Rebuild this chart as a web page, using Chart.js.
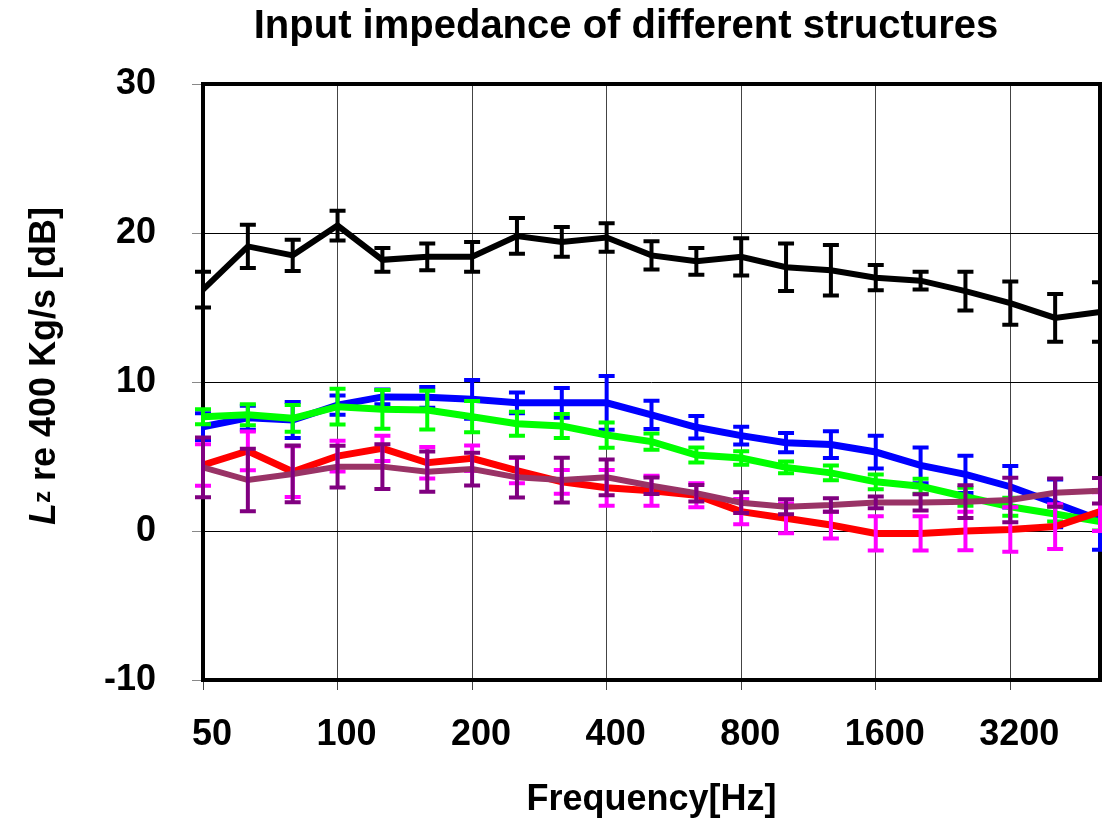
<!DOCTYPE html>
<html>
<head>
<meta charset="utf-8">
<title>Input impedance of different structures</title>
<script src="https://cdn.jsdelivr.net/npm/chart.js@4.4.1/dist/chart.umd.min.js"></script>
<style>
  html, body { margin: 0; padding: 0; background: #fff; }
  #wrap { width: 1102px; height: 823px; position: relative; }
</style>
</head>
<body>
<div id="wrap"><canvas id="chart"></canvas></div>
<script>
// 1/3 octave bands (Hz)
var bands = ["50", "63", "80", "100", "125", "160", "200", "250", "315", "400", "500",
             "630", "800", "1000", "1250", "1600", "2000", "2500", "3150", "4000", "5000"];
// labels shown on every 3rd band
var tickLabels = ["50", "100", "200", "400", "800", "1600", "3200"];

var blackVals = [16.2, 19.1, 18.5, 20.5, 18.2, 18.4, 18.4, 19.8, 19.4, 19.7, 18.5,
                 18.1, 18.4, 17.7, 17.5, 17.0, 16.8, 16.1, 15.3, 14.3, 14.7];
var blackErr  = [1.2, 1.45, 1.05, 1.0, 0.8, 0.9, 1.0, 1.2, 1.0, 0.95, 0.95,
                 0.9, 1.25, 1.6, 1.7, 0.85, 0.6, 1.3, 1.45, 1.6, 2.0];

var blueVals = [7.0, 7.6, 7.45, 8.45, 9.0, 8.97, 8.84, 8.6, 8.6, 8.6, 7.8,
                6.96, 6.4, 5.93, 5.8, 5.3, 4.4, 3.8, 2.97, 1.86, 0.74];
var blueErr  = [0.9, 0.8, 1.2, 0.65, 0.5, 0.7, 1.3, 0.7, 1.0, 1.8, 0.95,
                0.75, 0.6, 0.65, 0.9, 1.1, 1.2, 1.25, 1.4, 1.6, 2.0];

var greenVals = [7.67, 7.8, 7.56, 8.34, 8.17, 8.12, 7.67, 7.2, 7.05, 6.44, 6.0,
                 5.1, 4.9, 4.27, 3.9, 3.3, 3.0, 2.3, 1.63, 1.14, 0.63];
var greenErr  = [0.5, 0.7, 0.9, 1.2, 1.3, 1.3, 1.05, 0.8, 0.8, 0.85, 0.55,
                 0.5, 0.45, 0.4, 0.5, 0.5, 0.5, 0.6, 0.6, 0.5, 0.6];

var redVals = [4.43, 5.37, 3.98, 5.03, 5.55, 4.58, 4.88, 4.05, 3.3, 2.9, 2.7,
               2.4, 1.3, 0.85, 0.4, -0.16, -0.16, 0.0, 0.1, 0.3, 1.3];
var redErr  = [1.4, 1.3, 1.7, 1.03, 0.85, 1.05, 0.85, 0.85, 0.8, 1.2, 1.0,
               0.8, 0.85, 1.0, 0.9, 1.15, 1.15, 1.3, 1.5, 1.5, 1.3];

var mauveVals = [4.27, 3.42, 3.83, 4.32, 4.32, 3.98, 4.16, 3.6, 3.42, 3.6, 3.04,
                 2.53, 1.9, 1.63, 1.74, 1.92, 1.92, 1.97, 2.08, 2.57, 2.7];
var mauveErr  = [2.0, 2.1, 1.9, 1.4, 1.5, 1.35, 1.1, 1.35, 1.5, 1.2, 0.55,
                 0.55, 0.7, 0.5, 0.45, 0.4, 0.55, 1.1, 1.5, 0.95, 0.85];

var FONT = "'Liberation Sans', Arial, Helvetica, sans-serif";

function makeSet(vals, errs, lineColor, errColor, width) {
  return {
    data: vals,
    errors: errs,
    errorColor: errColor,
    borderColor: lineColor,
    backgroundColor: lineColor,
    borderWidth: width,
    pointRadius: 0,
    pointHoverRadius: 0,
    tension: 0,
    fill: false
  };
}

// 오차막대 : 각 데이터셋 선 바로 뒤에 그림
var errorBarPlugin = {
  id: "errorBars",
  afterDatasetDraw: function (chart, args) {
    var ds = chart.data.datasets[args.index];
    if (!ds.errors) return;
    var ctx = chart.ctx;
    var yScale = chart.scales.y;
    ctx.save();
    ctx.strokeStyle = ds.errorColor;
    ctx.lineWidth = 4;
    args.meta.data.forEach(function (pt, i) {
      var top = yScale.getPixelForValue(ds.data[i] + ds.errors[i]);
      var bot = yScale.getPixelForValue(ds.data[i] - ds.errors[i]);
      ctx.beginPath();
      ctx.moveTo(pt.x, top);
      ctx.lineTo(pt.x, bot);
      ctx.moveTo(pt.x - 8, top);
      ctx.lineTo(pt.x + 8, top);
      ctx.moveTo(pt.x - 8, bot);
      ctx.lineTo(pt.x + 8, bot);
      ctx.stroke();
    });
    ctx.restore();
  }
};

// 외곽 테두리 + 제목 + y축 제목
var framePlugin = {
  id: "frame",
  beforeDatasetsDraw: function (chart) {
    var a = chart.chartArea;
    var ctx = chart.ctx;
    ctx.save();
    ctx.strokeStyle = "#000";
    ctx.lineWidth = 4;
    ctx.strokeRect(a.left, a.top, a.right - a.left, a.bottom - a.top);
    ctx.restore();
  },
  afterDraw: function (chart) {
    var ctx = chart.ctx;
    ctx.save();
    ctx.fillStyle = "#000";
    ctx.textAlign = "center";
    ctx.textBaseline = "alphabetic";
    ctx.font = "bold 40px " + FONT;
    ctx.fillText("Input impedance of different structures", 626, 38);

    // "Lz re 400 Kg/s [dB]" rotated
    var parts = [
      { t: "L", f: "italic bold 36px " + FONT, dy: 0 },
      { t: "z", f: "bold 24px " + FONT, dy: -5 },
      { t: " re 400 Kg/s [dB]", f: "bold 36px " + FONT, dy: 0 }
    ];
    var total = 0;
    parts.forEach(function (p) {
      ctx.font = p.f;
      p.w = ctx.measureText(p.t).width;
      total += p.w;
    });
    ctx.translate(55, 366);
    ctx.rotate(-Math.PI / 2);
    ctx.textAlign = "left";
    var x = -total / 2;
    parts.forEach(function (p) {
      ctx.font = p.f;
      ctx.fillText(p.t, x, p.dy);
      x += p.w;
    });
    ctx.restore();
  }
};

var ctx = document.getElementById("chart");
var chart = new Chart(ctx, {
  type: "line",
  data: {
    labels: bands,
    // 뒤에 있는 데이터셋이 먼저 그려짐
    datasets: [
      makeSet(mauveVals, mauveErr, "#993366", "#800080", 6),
      makeSet(redVals, redErr, "#FF0000", "#FF00FF", 7),
      makeSet(greenVals, greenErr, "#00FF00", "#00FF00", 7),
      makeSet(blueVals, blueErr, "#0000FF", "#0000FF", 7),
      makeSet(blackVals, blackErr, "#000000", "#000000", 6)
    ]
  },
  options: {
    responsive: true,
    maintainAspectRatio: false,
    animation: false,
    events: [],
    layout: { padding: { top: 84, right: 2, left: 0, bottom: 0 } },
    plugins: {
      legend: { display: false },
      title: { display: false },
      tooltip: { enabled: false }
    },
    scales: {
      x: {
        type: "category",
        offset: false,
        border: { display: false },
        grid: {
          color: function (c) { return c.index % 3 === 0 ? "#444" : "rgba(0,0,0,0)"; },
          tickColor: function (c) { return c.index % 3 === 0 ? "#444" : "rgba(0,0,0,0)"; },
          lineWidth: 1,
          tickLength: 10
        },
        ticks: {
          autoSkip: false,
          maxRotation: 0,
          minRotation: 0,
          padding: 23,
          labelOffset: 9,
          color: "#000",
          font: { family: FONT, size: 36, weight: "bold" },
          callback: function (val, idx) {
            return idx % 3 === 0 ? tickLabels[idx / 3] : "";
          }
        },
        title: {
          display: true,
          text: "Frequency[Hz]",
          color: "#000",
          font: { family: FONT, size: 36, weight: "bold" },
          padding: { top: 0, bottom: 1 }
        },
        afterFit: function (s) {
          s.height = 143;
          s.paddingLeft = 0;
          s.paddingRight = 0;
        }
      },
      y: {
        min: -10,
        max: 30,
        border: { display: false },
        grid: { color: "#000", lineWidth: 1, tickLength: 11, tickColor: "#888" },
        ticks: {
          stepSize: 10,
          padding: 36,
          color: "#000",
          font: { family: FONT, size: 36, weight: "bold" }
        },
        afterFit: function (s) { s.width = 203; }
      }
    }
  },
  plugins: [errorBarPlugin, framePlugin]
});
</script>
</body>
</html>
